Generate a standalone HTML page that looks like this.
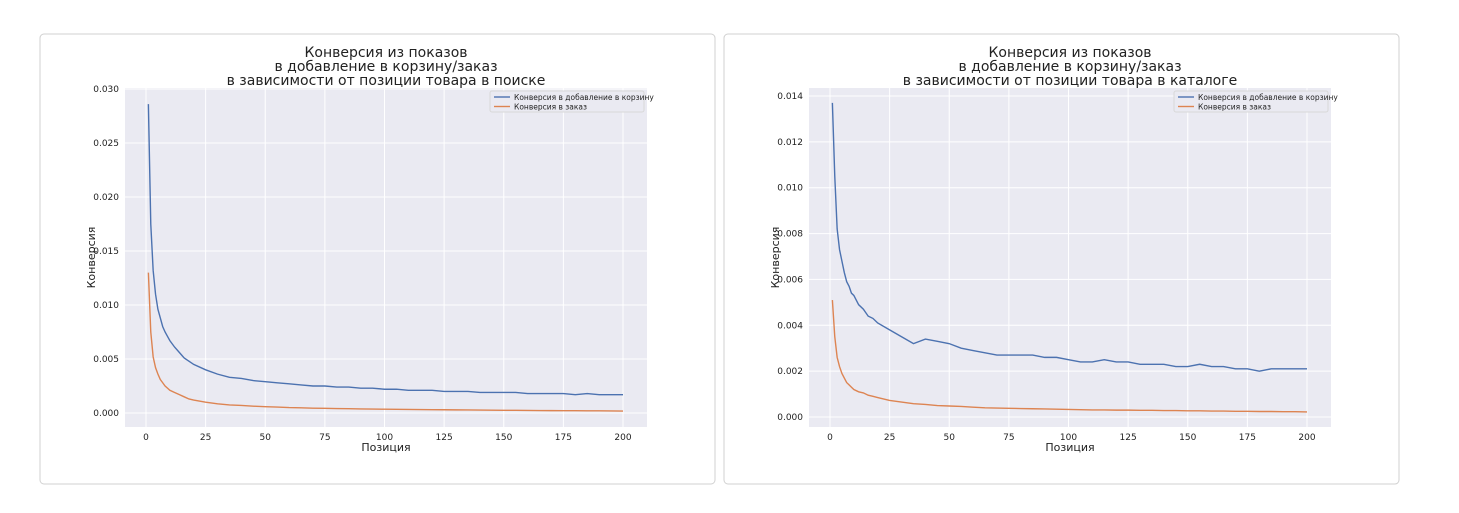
<!DOCTYPE html>
<html><head><meta charset="utf-8"><style>
body{margin:0;background:#fff;font-family:"Liberation Sans","DejaVu Sans",sans-serif;}
svg text{font-family:"DejaVu Sans","Liberation Sans",sans-serif;}
</style></head><body>
<svg id="s" width="1459" height="508" xmlns="http://www.w3.org/2000/svg"></svg>
<script>
const positions=[1,2,3,4,5,6,7,8,9,10,12,14,16,18,20,25,30,35,40,45,50,55,60,65,70,75,80,85,90,95,100,105,110,115,120,125,130,135,140,145,150,155,160,165,170,175,180,185,190,195,200];
const searchCart=[.0286,.0175,.0132,.0110,.0096,.0088,.0080,.0075,.0071,.0067,.0061,.0056,.0051,.0048,.0045,.0040,.0036,.0033,.0032,.0030,.0029,.0028,.0027,.0026,.0025,.0025,.0024,.0024,.0023,.0023,.0022,.0022,.0021,.0021,.0021,.0020,.0020,.0020,.0019,.0019,.0019,.0019,.0018,.0018,.0018,.0018,.0017,.0018,.0017,.0017,.0017];
const searchOrder=[.0130,.0075,.0052,.0042,.0036,.0031,.0028,.0025,.0023,.0021,.0019,.0017,.0015,.0013,.0012,.0010,.00085,.00075,.0007,.00063,.00058,.00055,.0005,.00048,.00045,.00043,.00041,.0004,.00038,.00036,.00035,.00034,.00033,.00032,.00031,.0003,.00029,.00028,.00027,.00026,.00025,.00025,.00024,.00023,.00022,.00021,.00021,.0002,.0002,.00019,.00018];
const catCart=[.0137,.0105,.0082,.0073,.0068,.0063,.0059,.0057,.0054,.0053,.0049,.0047,.0044,.0043,.0041,.0038,.0035,.0032,.0034,.0033,.0032,.0030,.0029,.0028,.0027,.0027,.0027,.0027,.0026,.0026,.0025,.0024,.0024,.0025,.0024,.0024,.0023,.0023,.0023,.0022,.0022,.0023,.0022,.0022,.0021,.0021,.0020,.0021,.0021,.0021,.0021];
const catOrder=[.0051,.0035,.0026,.0022,.0019,.0017,.0015,.0014,.0013,.0012,.0011,.00105,.00095,.0009,.00085,.00072,.00065,.00058,.00055,.0005,.00048,.00046,.00043,.0004,.00039,.00038,.00037,.00036,.00035,.00034,.00033,.00032,.00031,.00031,.0003,.0003,.00029,.00029,.00028,.00028,.00027,.00027,.00026,.00026,.00025,.00025,.00024,.00024,.00023,.00023,.00022];
const xTicks=[0,25,50,75,100,125,150,175,200];
const yTicksL=[0,0.005,0.010,0.015,0.020,0.025,0.030];
const yTicksR=[0,0.002,0.004,0.006,0.008,0.010,0.012,0.014];
const NS='http://www.w3.org/2000/svg',S=document.getElementById('s');
function mk(t,a,p){const e=document.createElementNS(NS,t);for(const k in a)e.setAttribute(k,a[k]);(p||S).appendChild(e);return e;}
function chart(o){
 const g=mk('g',{});
 
 
 const card=mk('rect',{x:o.cx,y:34,width:675,height:450,rx:4,fill:'#fff',stroke:'#d0d0d0'},g);
 
 
 const L=o.px,R=o.px+522,T=88,B=427;
 const X=v=>o.x0+(v)*(o.x200-o.x0)/200;
 const Y=v=>o.y0-v*o.ys;
 const bg=mk('rect',{x:L,y:T,width:R-L,height:B-T,fill:'#eaeaf2'},g);
 
 
 xTicks.forEach(t=>{mk('line',{x1:X(t),x2:X(t),y1:T,y2:B,stroke:'#fff','stroke-width':1},g);
  const tx=mk('text',{x:X(t),y:B+13,'font-size':9,'text-anchor':'middle',fill:'#222'},g);tx.textContent=t;
  });
 o.yt.forEach(t=>{mk('line',{x1:L,x2:R,y1:Y(t),y2:Y(t),stroke:'#fff','stroke-width':1},g);
  const tx=mk('text',{x:L-6,y:Y(t)+3,'font-size':9,'text-anchor':'end',fill:'#222'},g);tx.textContent=t.toFixed(3);
  });
 [[o.a,'#4c72b0','series-cart'],[o.b,'#dd8452','series-order']].forEach(([arr,c,n])=>{
  const p=mk('polyline',{points:positions.map((x,i)=>X(x)+','+Y(arr[i])).join(' '),fill:'none',stroke:c,'stroke-width':1.4},g);
  });
 const mid=(L+R)/2;
 o.title.forEach((s,i)=>{const t=mk('text',{x:mid,y:57+i*14,'font-size':14,'text-anchor':'middle',fill:'#222'},g);t.textContent=s;
  });
 const xl=mk('text',{x:mid,y:451,'font-size':11,'text-anchor':'middle',fill:'#222'},g);xl.textContent='Позиция';
 
 const yl=mk('text',{x:0,y:0,'font-size':11,'text-anchor':'middle',fill:'#222',transform:`translate(${L-30},${(T+B)/2}) rotate(-90)`},g);yl.textContent='Конверсия';
 
 const lg=mk('g',{},g);
 mk('rect',{x:R-157,y:91,width:154,height:21,rx:2,fill:'#eaeaf2',stroke:'#d8d8d8'},lg);
 [['Конверсия в добавление в корзину','#4c72b0'],['Конверсия в заказ','#dd8452']].forEach(([s,c],i)=>{
  mk('line',{x1:R-153,x2:R-137,y1:97+i*9.5,y2:97+i*9.5,stroke:c,'stroke-width':1.4},lg);
  const t=mk('text',{x:R-133,y:100+i*9.5,'font-size':7.5,fill:'#222'},lg);t.textContent=s;
  });
}
chart({name:'search-chart',cx:40,px:125,x0:146,x200:623,y0:413,ys:10800,yt:yTicksL,a:searchCart,b:searchOrder,
 title:['Конверсия из показов','в добавление в корзину/заказ','в зависимости от позиции товара в поиске']});
chart({name:'catalog-chart',cx:724,px:809,x0:830,x200:1307,y0:417,ys:22929,yt:yTicksR,a:catCart,b:catOrder,
 title:['Конверсия из показов','в добавление в корзину/заказ','в зависимости от позиции товара в каталоге']});
</script>
</body></html>
